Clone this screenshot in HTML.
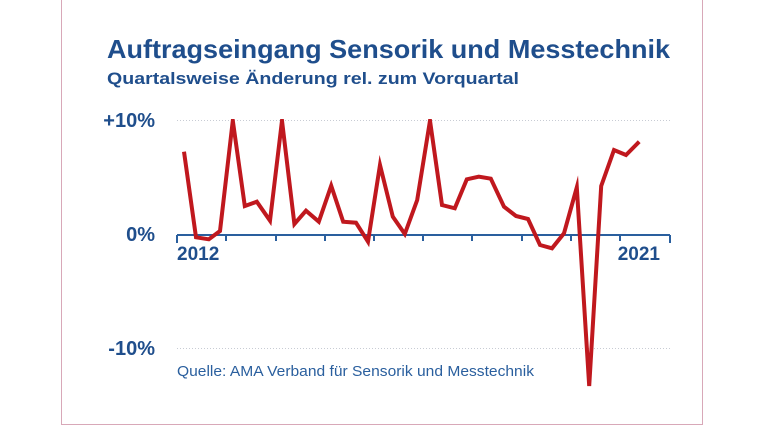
<!DOCTYPE html>
<html><head><meta charset="utf-8"><style>
html,body{margin:0;padding:0;background:#fff;}
svg{display:block;}
</style></head><body>
<svg width="760" height="427" viewBox="0 0 760 427" xmlns="http://www.w3.org/2000/svg" font-family="Liberation Sans, sans-serif">
<defs><clipPath id="c"><rect x="170" y="119" width="500" height="268"/></clipPath></defs>
<rect x="0" y="0" width="760" height="427" fill="#fff"/>
<path d="M61.5 0 V424.5 H702.5 V0" fill="none" stroke="#d8a8b8" stroke-width="1"/>
<text x="107" y="58" font-size="26" font-weight="bold" fill="#1f4e8c" textLength="563" lengthAdjust="spacingAndGlyphs">Auftragseingang Sensorik und Messtechnik</text>
<text x="107" y="84" font-size="17" font-weight="bold" fill="#1f4e8c" textLength="412" lengthAdjust="spacingAndGlyphs">Quartalsweise Änderung rel. zum Vorquartal</text>
<g stroke="#c8ccd4" stroke-width="1" stroke-dasharray="1,2">
<line x1="177" y1="120.5" x2="670" y2="120.5"/>
<line x1="177" y1="348.5" x2="670" y2="348.5"/>
</g>
<g font-size="20" font-weight="bold" fill="#1f4e8c" text-anchor="end">
<text x="155" y="127">+10%</text>
<text x="155" y="241">0%</text>
<text x="155" y="355">-10%</text>
</g>
<g stroke="#2a5f9e" stroke-width="2">
<line x1="177" y1="235" x2="670" y2="235"/>
<path d="M177 235v8 M226 235v6 M276 235v6 M325 235v6 M374 235v6 M423 235v6 M472 235v6 M522 235v6 M571 235v6 M620 235v6 M670 235v8"/>
</g>
<text x="177" y="260" font-size="19" font-weight="bold" fill="#1f4e8c">2012</text>
<text x="660" y="260" font-size="19" font-weight="bold" fill="#1f4e8c" text-anchor="end">2021</text>
<text x="177" y="376" font-size="15" fill="#2a5f9e" textLength="357" lengthAdjust="spacingAndGlyphs">Quelle: AMA Verband für Sensorik und Messtechnik</text>
<polyline clip-path="url(#c)" fill="none" stroke="#c0181e" stroke-width="4" stroke-linejoin="miter" stroke-miterlimit="10" points="184,151.7 196,237.3 208.8,239.3 220,231 232.8,120.7 244.8,206 256.8,201.7 270,220.7 282,120.7 294.4,224 306,210.7 318.8,221.7 331.2,185.7 343.2,221.7 356,222.7 368,241.7 380,165 392.8,216.7 404.8,234 417.2,200 430,120.7 442,205 454.8,208.3 466.8,179.3 478.8,176.7 490.8,178.7 504,206.7 516,216 528,219 540,245 552,248.3 564,233.3 576.8,187.3 589.2,386 601.2,186 614,150 626,155 639.2,141.7"/>
</svg>
</body></html>
